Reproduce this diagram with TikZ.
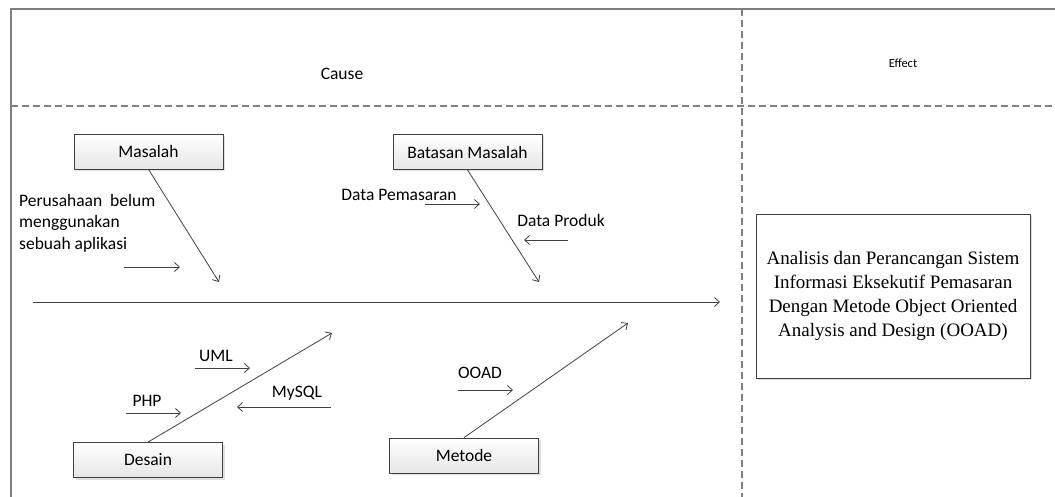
\documentclass[tikz,border=0pt]{standalone}
\usepackage{fontspec}
\setmainfont{Carlito}
\newfontfamily\effectfont{Liberation Serif}
\usetikzlibrary{arrows.meta,shadows}

\definecolor{linegray}{HTML}{404040}
\definecolor{framegray}{HTML}{7F7F7F}

\tikzset{
  cat/.style={draw=linegray, line width=.8pt, top color=white, bottom color=gray!20,
    minimum width=149pt, minimum height=35pt,
    drop shadow={opacity=.25, shadow xshift=2pt, shadow yshift=-2pt}},
  arr/.style={draw=linegray, line width=.8pt, -{Straight Barb[length=5pt,width=9pt]}},
  frame/.style={draw=framegray, line width=1.2pt},
  sep/.style={frame, dash pattern=on 7pt off 4pt}
}

\begin{document}
\begin{tikzpicture}[x=1pt,y=-1pt]

        \useasboundingbox (0,0) rectangle (1055,497);

        \draw[frame] (11,497) -- (11,9) -- (1055,9);
        \draw[sep] (11,106) -- (1055,106);
        \draw[sep] (742,9) -- (742,497);

        \begin{scope}[every node/.style={inner sep=0pt, font=\fontsize{17.5}{21.5}\selectfont}]
          \node[anchor=base] (cause)  at (342,80) {Cause};
          \node[anchor=base, font=\fontsize{12.5}{15}\selectfont] (effectlbl) at (903,68) {Effect};

          \node[cat] (masalah) at (148.5,151.5) {Masalah};
          \node[cat] (batasan) at (467.5,152)   {Batasan Masalah};
          \node[cat] (desain)  at (148,460)     {Desain};
          \node[cat] (metode)  at (464,455.5)   {Metode};

          \node[anchor=north west, align=left] (perusahaan) at (19,194)
            {Perusahaan\ \ belum\\menggunakan\\sebuah aplikasi};
          \node[anchor=base] (pemasaran) at (399,200.7) {Data Pemasaran};
          \node[anchor=base] (produk)    at (561,227)   {Data Produk};
          \node[anchor=base] (uml)       at (216,361)   {UML};
          \node[anchor=base] (php)       at (147,406)   {PHP};
          \node[anchor=base] (mysql)     at (297,397)   {MySQL};
          \node[anchor=base] (ooad)      at (480,378)   {OOAD};

          \node[draw=linegray, line width=.8pt, fill=white,
                drop shadow={opacity=.25, shadow xshift=2pt, shadow yshift=-2pt},
                minimum width=274pt, minimum height=164pt, align=center,
                font=\effectfont\fontsize{19}{24}\selectfont] (effect) at (893,296)
            {Analisis dan Perancangan Sistem\\Informasi Eksekutif Pemasaran\\
             Dengan Metode Object Oriented\\Analysis and Design (OOAD)};
        \end{scope}

        \coordinate (spineL) at (33,302);
        \coordinate (spineR) at (720,302);
        \coordinate (m1) at (219,282);
        \coordinate (b1) at (539,282);
        \coordinate (d1) at (332,333);
        \coordinate (o1) at (628,323);

        \coordinate (ps) at (124,267);  \coordinate (pe) at (180,267);
        \coordinate (ds) at (425,204);  \coordinate (de) at (480,204);
        \coordinate (rs) at (568,240);  \coordinate (re) at (524,240);
        \coordinate (us) at (195,368);  \coordinate (ue) at (250,368);
        \coordinate (hs) at (126,413);  \coordinate (he) at (181,413);
        \coordinate (ys) at (331,407);  \coordinate (ye) at (237,407);
        \coordinate (os) at (458,390);  \coordinate (oe) at (513,390);

        \begin{scope}[every edge/.style={arr}]
          \path (spineL) edge (spineR);
          \path (masalah.south) edge (m1);
          \path (batasan.south) edge (b1);
          \path (desain.north)  edge (d1);
          \path (metode.north)  edge (o1);

          \path (ps) edge (pe);
          \path (ds) edge (de);
          \path (rs) edge (re);
          \path (us) edge (ue);
          \path (hs) edge (he);
          \path (ys) edge (ye);
          \path (os) edge (oe);
        \end{scope}

      \end{tikzpicture}
\end{document}
